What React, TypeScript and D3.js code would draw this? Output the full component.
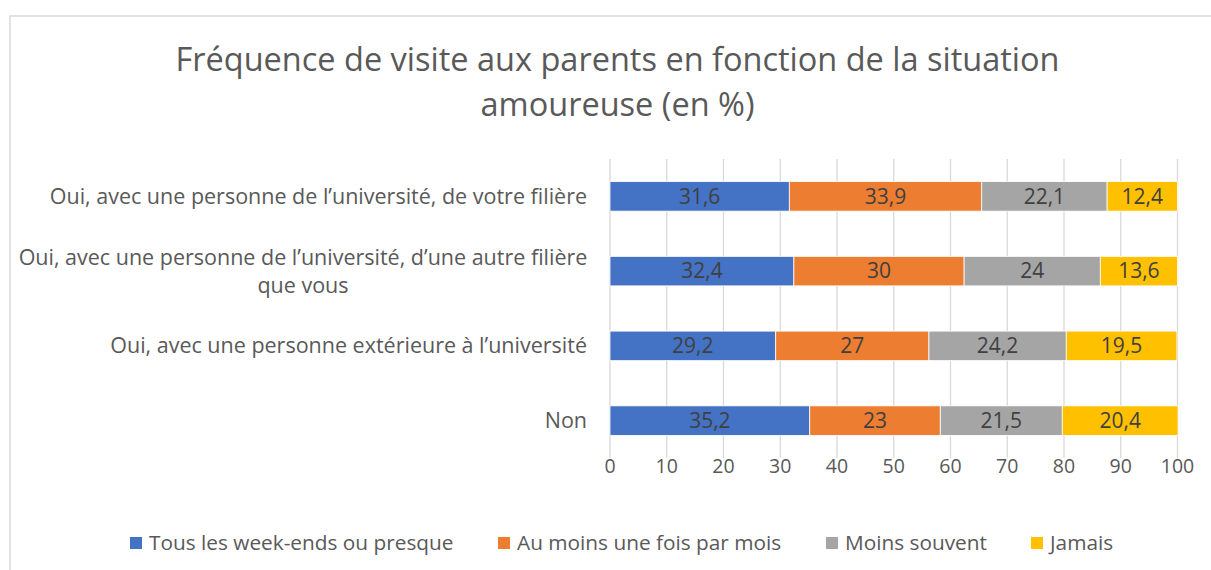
import React from "react";
import * as d3 from "d3";

const categories = [
  ["Oui, avec une personne de l’université, de votre filière"],
  ["Oui, avec une personne de l’université, d’une autre filière", "que vous"],
  ["Oui, avec une personne extérieure à l’université"],
  ["Non"],
];
const seriesNames = ["Tous les week-ends ou presque", "Au moins une fois par mois", "Moins souvent", "Jamais"];
const weekends = [31.6, 32.4, 29.2, 35.2];
const monthly = [33.9, 30, 27, 23];
const lessOften = [22.1, 24, 24.2, 21.5];
const never = [12.4, 13.6, 19.5, 20.4];
const xTicks = [0, 10, 20, 30, 40, 50, 60, 70, 80, 90, 100];
const colors = ["#4472C4", "#ED7D31", "#A5A5A5", "#FFC000"];
const titleLines = ["Fréquence de visite aux parents en fonction de la situation", "amoureuse (en %)"];

const W = 1211;
const H = 570;
const FONT = "'Open Sans', sans-serif";

export default function App() {
  const series = [weekends, monthly, lessOften, never];
  const x = d3.scaleLinear().domain([0, 100]).range([610, 1177.5]);
  const y = d3
    .scaleBand<number>()
    .domain(categories.map((_, i) => i))
    .range([159, 458])
    .paddingInner(0.605)
    .paddingOuter(0.3025);
  const rows = categories.map((_, i) => series.map((s) => s[i]));
  const stacked = rows.map((vals) => {
    let acc = 0;
    return vals.map((v) => {
      const s = acc;
      acc += v;
      return [s, acc];
    });
  });
  const fmt = (v: number) => String(v).replace(".", ",");
  const legendX = [130, 498, 826, 1031];

  return (
    <svg width={W} height={H} style={{ position: "absolute", left: 0, top: 0 }} fontFamily={FONT}>
      <rect x={0} y={0} width={W} height={H} fill="#fff" />
      <path d={`M10,${H} L10,16 L${W},16`} fill="none" stroke="#d9d9d9" strokeWidth={1.5} />
      {titleLines.map((t, i) => (
        <text key={i} x={617.5} y={60 + i * 45} dy="0.35em" textAnchor="middle" fontSize={32.5} fill="#595959">
          {t}
        </text>
      ))}
      {xTicks.map((t) => (
        <line key={t} x1={x(t)} x2={x(t)} y1={159} y2={458} stroke="#d9d9d9" strokeWidth={1.3} />
      ))}
      {stacked.map((segs, i) =>
        segs.map(([a, b], j) => (
          <rect
            key={`${i}-${j}`}
            x={x(a)}
            y={y(i)!}
            width={x(b) - x(a)}
            height={y.bandwidth()}
            fill={colors[j]}
            stroke="#fff"
            strokeWidth={0.8}
          />
        ))
      )}
      {stacked.map((segs, i) =>
        segs.map(([a, b], j) => (
          <text
            key={`l${i}-${j}`}
            x={(x(a) + x(b)) / 2}
            y={y(i)! + y.bandwidth() / 2}
            dy="0.35em"
            textAnchor="middle"
            fontSize={21}
            fill="#404040"
          >
            {fmt(rows[i][j])}
          </text>
        ))
      )}
      {categories.map((lines, i) => {
        const cy = y(i)! + y.bandwidth() / 2;
        const lh = 28;
        const off = lines.length === 1 ? 0 : -lh / 2;
        return lines.map((l, k) => (
          <text
            key={`c${i}-${k}`}
            x={lines.length === 1 ? 587 : 303}
            y={cy + off + k * lh}
            dy="0.35em"
            textAnchor={lines.length === 1 ? "end" : "middle"}
            fontSize={21.5}
            fill="#595959"
          >
            {l}
          </text>
        ));
      })}
      {xTicks.map((t) => (
        <text key={`t${t}`} x={x(t)} y={466} dy="0.35em" textAnchor="middle" fontSize={19.5} fill="#595959">
          {t}
        </text>
      ))}
      {seriesNames.map((n, i) => (
        <g key={n}>
          <rect x={legendX[i]} y={537} width={12} height={12} fill={colors[i]} />
          <text x={legendX[i] + 19} y={543} dy="0.35em" fontSize={20.8} fill="#595959">
            {n}
          </text>
        </g>
      ))}
    </svg>
  );
}
